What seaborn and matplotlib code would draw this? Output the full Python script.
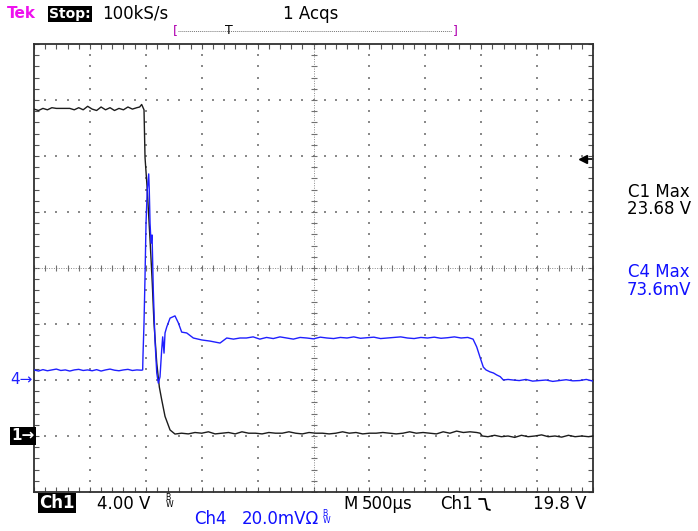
import numpy as np
import seaborn as sns
import matplotlib.pyplot as plt
from matplotlib.lines import Line2D
from matplotlib.ticker import MultipleLocator
from matplotlib.transforms import blended_transform_factory

# scope settings
ch1_scale = 4.0      # V/div
ch4_scale = 20.0     # mV/div
ch1_pos = -3.0       # ground marker position, div
ch4_pos = -2.0
trig_level = 19.8    # V on Ch1
time_span = 5000     # us (10 div x 500 us)

# Ch1 trace (V) in pieces
ch1_t_high = [0, 40, 80, 120, 160, 200, 240, 280, 320, 360, 400, 440, 480, 520, 560,
              600, 640, 680, 720, 760, 800, 840, 880, 920, 945, 963]
ch1_v_high = [23.35, 23.25, 23.4, 23.3, 23.45, 23.4, 23.4, 23.4, 23.4, 23.3, 23.45, 23.3,
              23.55, 23.35, 23.25, 23.5, 23.3, 23.45, 23.25, 23.4, 23.3, 23.5, 23.35, 23.45,
              23.5, 23.68]
ch1_t_fall = [984, 993, 1013, 1038, 1058, 1073, 1098, 1121, 1142, 1172, 1217, 1261]
ch1_v_fall = [23.3, 19.9, 17.6, 14.0, 10.9, 8.1, 5.2, 3.5, 2.6, 1.4, 0.43, 0.14]
ch1_t_low = [1320, 1380, 1440, 1500, 1560, 1620, 1680, 1740, 1800, 1860, 1920, 1980,
             2040, 2100, 2160, 2220, 2280, 2340, 2400, 2460, 2520, 2580, 2640, 2700,
             2760, 2820, 2880, 2940, 3000, 3060, 3120, 3180, 3240, 3300, 3360, 3420,
             3480, 3540, 3600, 3660, 3720, 3780, 3840, 3900, 3960]
ch1_v_low = [0.2, 0.15, 0.25, 0.2, 0.3, 0.15, 0.2, 0.25, 0.15, 0.3,
             0.2, 0.2, 0.15, 0.25, 0.2, 0.2, 0.3, 0.2, 0.15, 0.25,
             0.2, 0.2, 0.15, 0.2, 0.3, 0.2, 0.25, 0.15, 0.2, 0.2,
             0.25, 0.2, 0.15, 0.2, 0.3, 0.2, 0.25, 0.2, 0.15, 0.3,
             0.2, 0.35, 0.25, 0.3, 0.25]
ch1_t_end = [3990, 4010, 4060, 4120, 4180, 4240, 4300, 4360, 4420, 4480, 4540, 4600,
             4660, 4720, 4780, 4840, 4900, 4960, 5000]
ch1_v_end = [0.2, 0.0, -0.05, 0.05, -0.05, 0.0, -0.1, 0.05, -0.05, 0.0, 0.08, -0.05,
             0.0, -0.08, 0.05, -0.05, 0.0, -0.05, 0.0]

# Ch4 trace (mV)
ch4_t_base = [0, 40, 80, 120, 160, 200, 240, 280, 320, 360, 400, 440, 480, 520, 560,
              600, 640, 680, 720, 760, 800, 840, 880, 920, 960]
ch4_mv_base = [3.6, 3.2, 3.7, 3.3, 3.6, 3.9, 3.4, 3.6, 3.2, 3.6, 3.8, 3.4, 3.6, 3.3,
               3.7, 3.2, 3.6, 3.9, 3.5, 3.3, 3.6, 3.8, 3.4, 3.6, 3.5]
ch4_t_spike = [972, 975, 984, 993, 1002, 1013, 1026, 1031, 1038, 1047, 1056, 1067, 1082,
               1098, 1112, 1127, 1142, 1151, 1163, 1172, 1187, 1217, 1261, 1291, 1321,
               1366, 1425, 1500, 1574, 1664, 1724, 1784, 1843]
ch4_mv_spike = [3.6, 8.9, 20.4, 36.8, 56.0, 67.9, 73.6, 67.9, 56.0, 48.9, 51.8, 32.1,
                14.3, 2.5, -1.1, 1.1, 10.7, 15.4, 9.6, 16.8, 18.9, 22.1, 22.9, 20.4,
                17.1, 16.8, 15.0, 14.3, 13.9, 13.2, 15.0, 14.6, 15.0]
ch4_t_flat = [1900, 1960, 2020, 2080, 2140, 2200, 2260, 2320, 2380, 2440, 2500, 2560,
              2620, 2680, 2740, 2800, 2860, 2920, 2980, 3040, 3100, 3160, 3220, 3280,
              3340, 3400, 3460, 3520, 3580, 3640, 3700, 3760, 3820, 3880]
ch4_mv_flat = [15.0, 15.4, 14.6, 15.2, 14.8, 15.4, 15.0, 14.6, 15.2, 15.0, 14.7, 15.3,
               15.0, 14.8, 15.2, 15.0, 15.4, 14.9, 15.1, 15.3, 14.8, 15.0, 15.2, 15.4,
               15.0, 14.8, 15.2, 15.0, 15.3, 14.9, 15.1, 15.4, 15.0, 15.2]
ch4_t_drop = [3927, 3960, 3989, 4019, 4043, 4079, 4110, 4139, 4170, 4198, 4240, 4285,
              4340, 4400, 4460, 4520, 4580, 4640, 4700, 4760, 4820, 4880, 4940, 5000]
ch4_mv_drop = [14.6, 11.8, 8.2, 4.6, 3.6, 2.9, 2.5, 1.8, 1.2, 0.0, 0.2, 0.0,
               -0.2, 0.2, -0.4, -0.2, 0.0, -0.5, -0.2, 0.1, -0.3, -0.2, 0.2, -0.4]

t1 = np.array(ch1_t_high + ch1_t_fall + ch1_t_low + ch1_t_end)
v1 = np.array(ch1_v_high + ch1_v_fall + ch1_v_low + ch1_v_end)
t4 = np.array(ch4_t_base + ch4_t_spike + ch4_t_flat + ch4_t_drop)
v4 = np.array(ch4_mv_base + ch4_mv_spike + ch4_mv_flat + ch4_mv_drop)

# to screen divisions
y1 = v1 / ch1_scale + ch1_pos
y4 = v4 / ch4_scale + ch4_pos

sns.set_style("white")
plt.rcParams['font.family'] = ['DejaVu Sans']

W, H = 698, 531
fig = plt.figure(figsize=(W / 100, H / 100), dpi=100)
ax = fig.add_axes([34 / W, (H - 492) / H, 559 / W, 448 / H])


def px(x, y):
    return x / W, 1 - y / H


ax.set_xlim(0, time_span)
ax.set_ylim(-4, 4)

# graticule
gray = '#8a8a8a'
div_x = np.arange(0, time_span + 1, 100)
div_y = np.arange(-4, 4.001, 0.2)
for gx in range(500, time_span, 500):
    if gx == 2500:
        continue
    ax.scatter(np.full_like(div_y, gx), div_y, s=1.2, c=gray, marker='s', linewidths=0, zorder=1)
for gy in range(-3, 4):
    if gy == 0:
        continue
    ax.scatter(div_x, np.full_like(div_x, gy, dtype=float), s=1.2, c=gray, marker='s',
               linewidths=0, zorder=1)
ax.axhline(0, color=gray, lw=0.7, ls=(0, (1, 1.5)), zorder=1)
ax.axvline(2500, color=gray, lw=0.7, ls=(0, (1, 1.5)), zorder=1)
ax.scatter(div_x, np.zeros_like(div_x), marker='|', s=16, c='#707070', linewidths=0.8, zorder=1)
ax.scatter(np.full_like(div_y, 2500), div_y, marker='_', s=16, c='#707070', linewidths=0.8, zorder=1)

ax.xaxis.set_major_locator(MultipleLocator(500))
ax.xaxis.set_minor_locator(MultipleLocator(100))
ax.yaxis.set_major_locator(MultipleLocator(1))
ax.yaxis.set_minor_locator(MultipleLocator(0.2))
ax.tick_params(which='both', direction='in', length=3.5, width=0.8, color='#555555',
               top=True, right=True, bottom=True, left=True,
               labelbottom=False, labelleft=False)
for sp in ax.spines.values():
    sp.set_color('#303030')
    sp.set_linewidth(1.3)
ax.set_xlabel('')
ax.set_ylabel('')

# traces
sns.lineplot(x=t1, y=y1, ax=ax, color='#1c1c1c', lw=1.0, estimator=None, sort=False, zorder=3)
sns.lineplot(x=t4, y=y4, ax=ax, color='#1f1fff', lw=1.0, estimator=None, sort=False, zorder=4)

# trigger level arrow on the right edge
bt = blended_transform_factory(ax.transAxes, ax.transData)
trig_div = trig_level / ch1_scale + ch1_pos
ax.plot([0.982], [trig_div], marker='<', ms=6, color='black', transform=bt, clip_on=False, zorder=5)
ax.plot([0.982, 1.0], [trig_div, trig_div], color='black', lw=1.2, transform=bt, clip_on=False)

# ground markers on the left
lt = blended_transform_factory(fig.transFigure, ax.transData)
fig.text(10 / W, ch4_pos, '4\u2192', color='#1f1fff', fontsize=11, va='center', ha='left',
         transform=lt)
fig.text(11 / W, ch1_pos, '1\u2192', color='white', fontsize=11, va='center', ha='left',
         transform=lt, fontweight='bold',
         bbox=dict(facecolor='black', edgecolor='none', pad=1.0))

# top status line
fig.text(*px(7, 14), 'Tek', color='#ee11ee', fontsize=11, fontweight='bold', va='center')
fig.text(*px(49, 14), 'Stop:', color='white', fontsize=10, fontweight='bold', va='center',
         bbox=dict(facecolor='black', edgecolor='none', pad=1.0))
fig.text(*px(102, 14), '100kS/s', color='black', fontsize=12, va='center')
fig.text(*px(283, 14), '1 Acqs', color='black', fontsize=12, va='center')
fig.text(*px(175, 31), '[', color='#b000b0', fontsize=9, va='center', ha='center')
fig.text(*px(455, 31), ']', color='#b000b0', fontsize=9, va='center', ha='center')
fig.add_artist(Line2D([178 / W, 452 / W], [1 - 31 / H, 1 - 31 / H], color='#777777',
                      lw=0.7, ls=(0, (1, 1))))
fig.text(*px(229, 31), 'T', color='black', fontsize=9, va='center', ha='center')

# readouts on the right
fig.text(*px(628, 192), 'C1 Max', color='black', fontsize=12, va='center')
fig.text(*px(627, 209), '23.68 V', color='black', fontsize=12, va='center')
fig.text(*px(628, 272), 'C4 Max', color='#1010ff', fontsize=12, va='center')
fig.text(*px(627, 290), '73.6mV', color='#1010ff', fontsize=12, va='center')

# bottom status lines
fig.text(*px(39, 503), 'Ch1', color='white', fontsize=12, fontweight='bold', va='center',
         bbox=dict(facecolor='black', edgecolor='none', pad=0.8))
fig.text(*px(97, 504), '4.00 V', color='black', fontsize=12, va='center')
fig.text(*px(165, 501), r'$\mathregular{^B_W}$', color='black', fontsize=8, va='center')
fig.text(*px(343, 504), 'M', color='black', fontsize=12, va='center')
fig.text(*px(362, 504), '500\u00b5s', color='black', fontsize=12, va='center')
fig.text(*px(440, 504), 'Ch1', color='black', fontsize=12, va='center')
fig.add_artist(Line2D([479 / W, 485 / W, 487 / W, 490 / W],
                      [1 - 499 / H, 1 - 499 / H, 1 - 509 / H, 1 - 510 / H],
                      color='black', lw=1.3))
fig.text(*px(533, 504), '19.8 V', color='black', fontsize=12, va='center')
fig.text(*px(194, 519), 'Ch4', color='#1010ff', fontsize=12, va='center')
fig.text(*px(242, 519), '20.0mV\u03a9', color='#1010ff', fontsize=12, va='center')
fig.text(*px(322, 517), r'$\mathregular{^B_W}$', color='#1010ff', fontsize=8, va='center')

fig.savefig('out.png', dpi=100, facecolor='white')
